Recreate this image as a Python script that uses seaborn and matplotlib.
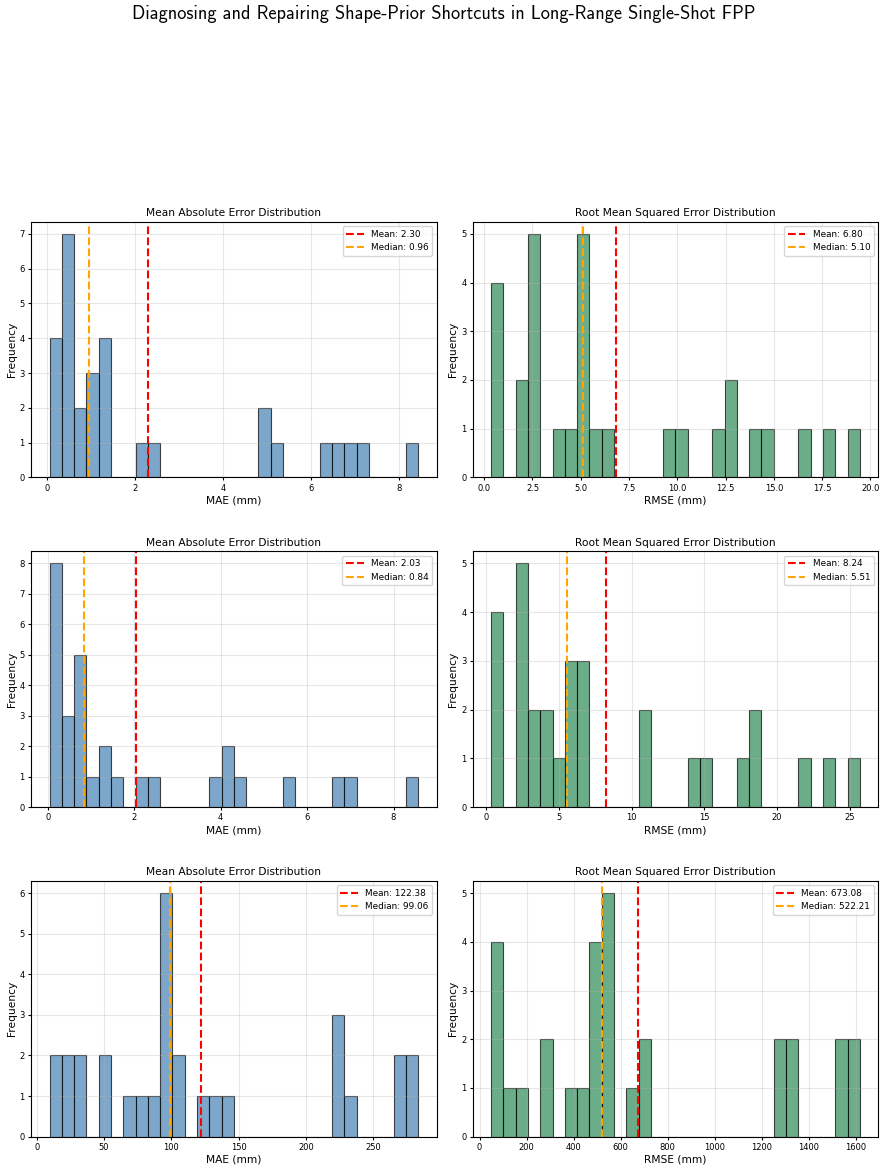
import matplotlib
matplotlib.use("Agg")
import matplotlib.pyplot as plt
import numpy as np
import pandas as pd
import seaborn as sns

# --- Histogram data (30 bins per panel) ---
mae_1_counts = [4, 7, 2, 3, 4, 0, 0, 1, 1, 0, 0, 0, 0, 0, 0, 0, 0, 2, 1, 0, 0, 0, 1, 1, 1, 1, 0, 0, 0, 1]
mae_1_range = (0.06, 8.44)
mae_1_mean, mae_1_median = 2.30, 0.96

rmse_1_counts = [4, 0, 2, 5, 0, 1, 1, 5, 1, 1, 0, 0, 0, 0, 1, 1, 0, 0, 1, 2, 0, 1, 1, 0, 0, 1, 0, 1, 0, 1]
rmse_1_range = (0.36, 19.45)
rmse_1_mean, rmse_1_median = 6.80, 5.10

mae_2_counts = [8, 3, 5, 1, 2, 1, 0, 1, 1, 0, 0, 0, 0, 1, 2, 1, 0, 0, 0, 1, 0, 0, 0, 1, 1, 0, 0, 0, 0, 1]
mae_2_range = (0.04, 8.57)
mae_2_mean, mae_2_median = 2.03, 0.84

rmse_2_counts = [4, 0, 5, 2, 2, 1, 3, 3, 0, 0, 0, 0, 2, 0, 0, 0, 1, 1, 0, 0, 1, 2, 0, 0, 0, 1, 0, 1, 0, 1]
rmse_2_range = (0.32, 25.69)
rmse_2_mean, rmse_2_median = 8.24, 5.51

mae_3_counts = [2, 2, 2, 0, 2, 0, 1, 1, 1, 6, 2, 0, 1, 1, 1, 0, 0, 0, 0, 0, 0, 0, 0, 3, 1, 0, 0, 0, 2, 2]
mae_3_range = (9.4, 283.6)
mae_3_mean, mae_3_median = 122.38, 99.06

rmse_3_counts = [4, 1, 1, 0, 2, 0, 1, 1, 4, 5, 0, 1, 2, 0, 0, 0, 0, 0, 0, 0, 0, 0, 0, 2, 2, 0, 0, 0, 2, 2]
rmse_3_range = (49.5, 1618.0)
rmse_3_mean, rmse_3_median = 673.08, 522.21

panels = [
    ("MAE", mae_1_counts, mae_1_range, mae_1_mean, mae_1_median),
    ("RMSE", rmse_1_counts, rmse_1_range, rmse_1_mean, rmse_1_median),
    ("MAE", mae_2_counts, mae_2_range, mae_2_mean, mae_2_median),
    ("RMSE", rmse_2_counts, rmse_2_range, rmse_2_mean, rmse_2_median),
    ("MAE", mae_3_counts, mae_3_range, mae_3_mean, mae_3_median),
    ("RMSE", rmse_3_counts, rmse_3_range, rmse_3_mean, rmse_3_median),
]

fig, axes = plt.subplots(3, 2, figsize=(8.88, 11.73), dpi=100)
fig.subplots_adjust(left=0.035, right=0.989, top=0.811, bottom=0.031,
                    wspace=0.089, hspace=0.289)

for ax, (metric, counts, rng, mean_v, median_v) in zip(axes.flat, panels):
    edges = np.linspace(rng[0], rng[1], len(counts) + 1)
    df = pd.DataFrame({"value": (edges[:-1] + edges[1:]) / 2, "count": counts})
    color = "steelblue" if metric == "MAE" else "seagreen"
    sns.histplot(data=df, x="value", weights="count", bins=len(counts),
                 binrange=rng, ax=ax, color=color, alpha=0.7,
                 edgecolor=(0, 0, 0, 0.7), linewidth=0.8)
    ax.axvline(mean_v, color="red", linestyle="--", linewidth=1.5,
               label=f"Mean: {mean_v:.2f}")
    ax.axvline(median_v, color="orange", linestyle="--", linewidth=1.5,
               label=f"Median: {median_v:.2f}")
    if metric == "MAE":
        ax.set_title("Mean Absolute Error Distribution", fontsize=7.7, pad=4)
    else:
        ax.set_title("Root Mean Squared Error Distribution", fontsize=7.7, pad=4)
    ax.set_xlabel(f"{metric} (mm)", fontsize=7.7, labelpad=2)
    ax.set_ylabel("Frequency", fontsize=7.7, labelpad=2)
    ax.tick_params(labelsize=6, length=2.5, pad=2)
    ax.grid(True, alpha=0.3)
    ax.legend(loc="upper right", fontsize=6.4)

fig.suptitle("Diagnosing and Repairing Shape-Prior Shortcuts in Long-Range Single-Shot FPP",
             fontsize=13.2, y=0.988, va="center", family=["cmss10", "DejaVu Sans"])

plt.savefig("out.png", dpi=100)
